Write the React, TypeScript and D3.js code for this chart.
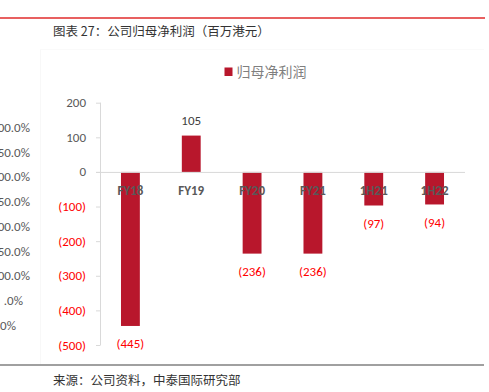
import React from "react";
import * as d3 from "d3";

const categories = ["FY18", "FY19", "FY20", "FY21", "1H21", "1H22"];
const values = [-445, 105, -236, -236, -97, -94];
const yTicks = [200, 100, 0, -100, -200, -300, -400, -500];
const leftClipped = ["00.0%", "50.0%", "00.0%", "50.0%", "00.0%", "50.0%", "00.0%", ".0%", "0%"];
const title = "图表 27：公司归母净利润（百万港元）";
const source = "来源：公司资料，中泰国际研究部";
const legendLabel = "归母净利润";

const fmt = (v: number) => (v < 0 ? `(${Math.abs(v)})` : `${v}`);

export default function App() {
  const W = 489, H = 392;
  const x = d3.scaleBand<string>().domain(categories).range([100, 465]).paddingInner(0.69).paddingOuter(0.345);
  const y = d3.scaleLinear().domain([-500, 200]).range([345, 102.7]);
  const font = "Calibri, Carlito, 'Noto Sans', 'Open Sans', sans-serif";
  const cjk = "'Noto Sans CJK SC', sans-serif";
  const barColor = "#B8172C";
  const gray = "#595959";
  return (
    <svg width={W} height={H} style={{ position: "absolute", left: 0, top: 0, background: "#fff" }}>
      <line x1={0} x2={485} y1={18} y2={18} stroke="#E02B2B" strokeWidth={1.5} />
      <text x={53} y={36} fontFamily={cjk} fontSize={12.5} fill="#333">{title}</text>
      <line x1={40.5} x2={40.5} y1={49} y2={364} stroke="#f8f8f8" />
      <line x1={40} x2={484} y1={49.5} y2={49.5} stroke="#fafafa" />
      {leftClipped.map((t, i) => (
        <text key={i} x={i === 7 ? 23 : i === 8 ? 16 : 30} y={127 + i * 24.7 + 5} textAnchor="end" fontFamily={font} fontSize={13} fill={gray}>{t}</text>
      ))}
      {/* legend */}
      <rect x={224.5} y={67.5} width={8} height={8.5} fill={barColor} />
      <text x={236.5} y={76.5} fontFamily={cjk} fontSize={14} fill="#7f7f7f">{legendLabel}</text>
      {/* y axis */}
      <line x1={100.5} x2={100.5} y1={y(200)} y2={y(-500)} stroke="#d9d9d9" />
      {yTicks.map((t) => (
        <g key={t}>
          <line x1={96} x2={100.5} y1={y(t) + 0.5} y2={y(t) + 0.5} stroke="#d9d9d9" />
          <text x={86} y={y(t) + 4.5} textAnchor="end" fontFamily={font} fontSize={13} fill={t < 0 ? "#FF0000" : gray}>{fmt(t)}</text>
        </g>
      ))}
      {/* bars */}
      {categories.map((c, i) => {
        const v = values[i];
        const x0 = x(c)!;
        const top = Math.min(y(v), y(0));
        const h = Math.abs(y(v) - y(0));
        return <rect key={c} x={x0} y={top} width={x.bandwidth()} height={h} fill={barColor} />;
      })}
      <line x1={96} x2={465} y1={y(0) + 0.5} y2={y(0) + 0.5} stroke="#d9d9d9" />
      {categories.map((c) => (
        <text key={c} x={x(c)! + x.bandwidth() / 2} y={194.5} textAnchor="middle" fontFamily={font} fontSize={13} fontWeight="bold" fill={gray}>{c}</text>
      ))}
      {categories.map((c, i) => {
        const v = values[i];
        const cx = x(c)! + x.bandwidth() / 2;
        const ly = v >= 0 ? y(v) - 11 : y(v) + 22.5;
        return <text key={c} x={cx} y={ly} textAnchor="middle" fontFamily={font} fontSize={13} fill={v < 0 ? "#FF0000" : "#404040"}>{fmt(v)}</text>;
      })}
      <line x1={0} x2={484} y1={365} y2={365} stroke="#808080" strokeWidth={1.5} />
      <text x={53} y={385} fontFamily={cjk} fontSize={12.5} fill="#333">{source}</text>
    </svg>
  );
}
